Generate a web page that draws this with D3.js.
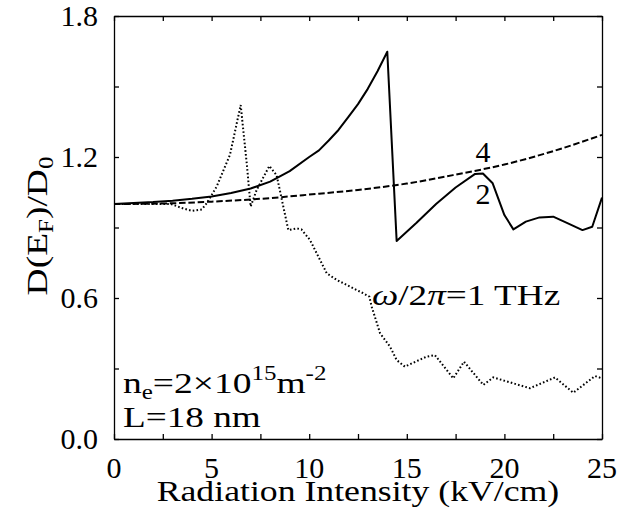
<!DOCTYPE html>
<html>
<head>
<meta charset="utf-8">
<script src="https://cdn.jsdelivr.net/npm/d3@7"></script>
</head>
<body style="margin:0">
<script>
// Data
// curve "2": solid
const solidX = [0, 1, 2, 3, 4, 5, 6, 7, 8, 9, 10, 10.5, 11, 11.5, 12, 12.5, 13, 13.5, 14,
  14.48, 15.5, 16.5, 17.5, 18.5, 18.9, 19.4, 20.0, 20.46, 21.1, 21.8, 22.5, 23.2, 24.0, 24.5, 25]
const solidY = [1.000, 1.004, 1.008, 1.014, 1.022, 1.032, 1.047, 1.066, 1.095, 1.140, 1.200, 1.228, 1.270, 1.315, 1.370, 1.425, 1.490, 1.565, 1.648,
  0.843, 0.920, 1.000, 1.070, 1.128, 1.130, 1.088, 0.953, 0.892, 0.925, 0.943, 0.946, 0.920, 0.889, 0.903, 1.027]

// curve "4": dashed
const dashX = [0, 2.5, 5, 7.5, 10, 12.5, 15, 17.5, 20, 22.5, 25]
const dashY = [1.000, 1.002, 1.010, 1.022, 1.040, 1.060, 1.087, 1.125, 1.168, 1.225, 1.294]

// omega/2pi = 1 THz: dotted
const dotX = [0, 1, 2, 2.9, 3.55, 4.0, 4.5, 4.75, 5.26, 5.94, 6.49, 6.8, 7.0, 7.31, 7.96, 8.33, 8.93, 9.36, 9.6, 10.04,
  10.9, 11.41, 12.77, 13.08, 13.2, 13.63, 14.14, 14.48, 14.9, 16.0, 16.44, 17.38, 17.93, 18.92, 19.43, 21.31, 22.59, 23.53, 24.64, 25]
const dotY = [1.0, 1.0, 1.0, 1.0, 0.981, 0.971, 0.977, 1.003, 1.074, 1.209, 1.421, 1.173, 0.989, 1.06, 1.162, 1.123, 0.889, 0.896, 0.892, 0.847,
  0.705, 0.677, 0.62, 0.606, 0.563, 0.45, 0.393, 0.336, 0.308, 0.35, 0.357, 0.258, 0.329, 0.230, 0.262, 0.216, 0.262, 0.197, 0.268, 0.258]

const xTicks = [0, 2.5, 5, 7.5, 10, 12.5, 15, 17.5, 20, 22.5, 25]
const xLabels = [0, 5, 10, 15, 20, 25]
const yTicks = [0, 0.3, 0.6, 0.9, 1.2, 1.5, 1.8]
const yLabels = [0, 0.6, 1.2, 1.8]

const FONT = 'Liberation Serif'
const width = 634, height = 525
const margin = { top: 16, right: 32, bottom: 86, left: 114 }

const svg = d3.select('body').append('svg')
  .attr('width', width)
  .attr('height', height)

const x = d3.scaleLinear().domain([0, 25]).range([margin.left, width - margin.right])
const y = d3.scaleLinear().domain([0, 1.8]).range([height - margin.bottom, margin.top])

// axes: ticks only, pointing inward; labels are set as plain texts below
const styleAxis = g => {
  g.attr('font-family', null).attr('font-size', null)
  g.selectAll('line, path').attr('stroke', '#000').attr('stroke-width', 1.3)
}

svg.append('g')
  .attr('transform', 'translate(0,' + y(0) + ')')
  .call(d3.axisBottom(x).tickValues(xTicks).tickFormat('').tickSizeInner(-5).tickSizeOuter(0))
  .call(styleAxis)

svg.append('g')
  .attr('transform', 'translate(0,' + y(1.8) + ')')
  .call(d3.axisTop(x).tickValues(xTicks).tickFormat('').tickSizeInner(-5).tickSizeOuter(0))
  .call(styleAxis)

svg.append('g')
  .attr('transform', 'translate(' + x(0) + ',0)')
  .call(d3.axisLeft(y).tickValues(yTicks).tickFormat('').tickSizeInner(-5).tickSizeOuter(0))
  .call(styleAxis)

svg.append('g')
  .attr('transform', 'translate(' + x(25) + ',0)')
  .call(d3.axisRight(y).tickValues(yTicks).tickFormat('').tickSizeInner(-5).tickSizeOuter(0))
  .call(styleAxis)

// tick labels, straight under the svg
xLabels.forEach(d => {
  svg.append('text')
    .attr('x', x(d)).attr('y', y(0) + 39)
    .attr('font-family', FONT).attr('font-size', 30)
    .attr('text-anchor', 'middle')
    .text(d3.format('d')(d))
})
yLabels.forEach(d => {
  svg.append('text')
    .attr('x', x(0) - 16).attr('y', y(d) + 10)
    .attr('font-family', FONT).attr('font-size', 30)
    .attr('text-anchor', 'end')
    .text(d3.format('.1f')(d))
})

// curves
const line = d3.line().x(d => x(d[0])).y(d => y(d[1]))
const smooth = d3.line().x(d => x(d[0])).y(d => y(d[1])).curve(d3.curveMonotoneX)

svg.append('path')
  .datum(d3.zip(dotX, dotY))
  .attr('d', line)
  .attr('fill', 'none')
  .attr('stroke', '#000')
  .attr('stroke-width', 2)
  .attr('stroke-dasharray', '1.6,2.2')

svg.append('path')
  .datum(d3.zip(dashX, dashY))
  .attr('d', smooth)
  .attr('fill', 'none')
  .attr('stroke', '#000')
  .attr('stroke-width', 2)
  .attr('stroke-dasharray', '6.5,2.8')

svg.append('path')
  .datum(d3.zip(solidX, solidY))
  .attr('d', line)
  .attr('fill', 'none')
  .attr('stroke', '#000')
  .attr('stroke-width', 2)
  .attr('stroke-linejoin', 'round')

// text helper: each piece is its own text element, laid one after another.
// parts are [text, kind] with kind 'sub', 'sup', 'it' or ''
// sx widens the glyphs (Computer Modern runs wider than Times)
const label = (tx, ty, parts, sx, anchor, rotated) => {
  let pieces = parts.map(p => {
    let small = p[1] === 'sub' || p[1] === 'sup'
    let t = svg.append('text')
      .attr('font-family', FONT)
      .attr('font-size', small ? 20 : 30)
      .text(p[0])
    if (p[1] === 'it') t.attr('font-style', 'italic')
    let w = t.node().getComputedTextLength() * sx
    t.attr('textLength', w).attr('lengthAdjust', 'spacingAndGlyphs')
    return { t: t, w: w, shift: p[1] === 'sub' ? 6 : p[1] === 'sup' ? -13 : 0 }
  })
  let total = d3.sum(pieces, p => p.w)
  let s = anchor === 'middle' ? -total / 2 : 0
  pieces.forEach(p => {
    if (rotated) {
      let px = tx + p.shift, py = ty - s
      p.t.attr('x', px).attr('y', py)
        .attr('transform', 'rotate(-90,' + px + ',' + py + ')')
    } else {
      p.t.attr('x', tx + s).attr('y', ty + p.shift)
    }
    s += p.w
  })
}

label(483, 162, [['4', '']], 1, 'middle')
label(483, 204, [['2', '']], 1, 'middle')

label(372, 305, [['ω', 'it'], ['/2', ''], ['π', 'it'], ['=1 THz', '']], 1.24)

label(123, 393, [['n', ''], ['e', 'sub'], ['=2×10', ''], ['15', 'sup'], [' m', ''], ['-2', 'sup']], 1.25)
label(123, 427, [['L=18 nm', '']], 1.24)

// axis titles
label((x(0) + x(25)) / 2, 501, [['Radiation Intensity (kV/cm)', '']], 1.19, 'middle')
label(47, 226, [['D(E', ''], ['F', 'sub'], [')/D', ''], ['0', 'sub']], 1.25, 'middle', true)
</script>
</body>
</html>
